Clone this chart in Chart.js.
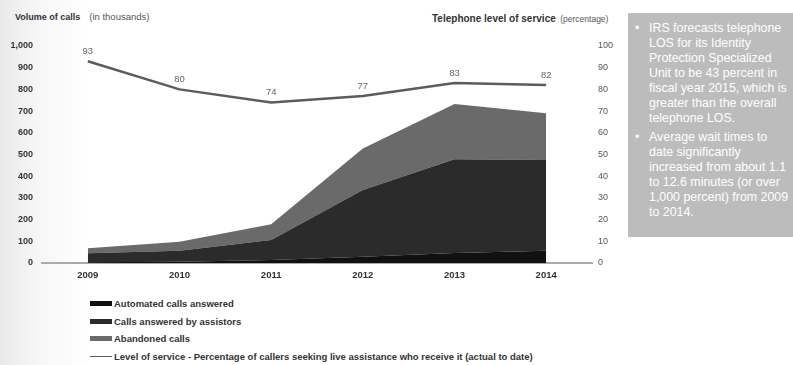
<!DOCTYPE html>
<html>
<head>
<meta charset="utf-8">
<script src="https://cdn.jsdelivr.net/npm/chart.js@4"></script>
<style>
  body { margin: 0; width: 793px; height: 365px; overflow: hidden; position: relative;
         font-family: "Liberation Sans", Arial, sans-serif;
         background: linear-gradient(90deg, #eaeaea 0px, #f7f7f7 40px, #ffffff 90px); }
  #wrap { position: absolute; left: 0; top: 0; width: 625px; height: 285px; }
  .axtitle { position: absolute; color: #555; white-space: nowrap; }
  .axtitle b { font-weight: bold; color: #333; }
  #legend { position: absolute; left: 90px; top: 295px; font-size: 9.5px; font-weight: bold; color: #333; }
  .li { height: 17.5px; display: flex; align-items: center; }
  .sw { width: 22px; margin-right: 2px; }
  #note { position: absolute; left: 628px; top: 13px; width: 165px; height: 224px; background: #bcbcbc;
          color: #fff; font-size: 12.4px; line-height: 15px; }
  #note ul { margin: 0; padding: 0; list-style: none; }
  #note li { position: relative; padding-left: 21px; margin-top: 4px; margin-bottom: 4px; }
  #note li:first-child { margin-top: 8px; }
  #note li:before { content: "\2022"; position: absolute; left: 7px; }
</style>
</head>
<body>
<div class="axtitle" style="left:15px; top:6px;"><b style="font-size:9px">Volume of calls</b>&nbsp; <span style="font-size:9.5px">(in thousands)</span></div>
<div class="axtitle" style="left:432px; top:8px;"><b style="font-size:10px">Telephone level of service</b> <span style="font-size:8.5px">(percentage)</span></div>
<div id="wrap"><canvas id="chart"></canvas></div>
<div id="legend"></div>
<div id="note">
  <ul>
    <li>IRS forecasts telephone<br>LOS for its Identity<br>Protection Specialized<br>Unit to be 43 percent in<br>fiscal year 2015, which is<br>greater than the overall<br>telephone LOS.</li>
    <li>Average wait times to<br>date significantly<br>increased from about 1.1<br>to 12.6 minutes (or over<br>1,000 percent) from 2009<br>to 2014.</li>
  </ul>
</div>
<script>
const years = ['2009', '2010', '2011', '2012', '2013', '2014'];
// thousands of calls
const automated = [3, 6, 14, 29, 46, 57];
const assistors = [42, 51, 92, 307, 432, 418];
const abandoned = [23, 41, 72, 192, 255, 215];
// percentage
const levelOfService = [93, 80, 74, 77, 83, 82];

const leftTicks = [0, 100, 200, 300, 400, 500, 600, 700, 800, 900, 1000];
const rightTicks = [0, 10, 20, 30, 40, 50, 60, 70, 80, 90, 100];

const font = "'Liberation Sans', Arial, sans-serif";

// value labels above the line
const pointLabels = {
    id: 'pointLabels',
    afterDatasetsDraw(chart) {
        const ctx = chart.ctx;
        const meta = chart.getDatasetMeta(3);
        ctx.save();
        ctx.font = '9.5px ' + font;
        ctx.fillStyle = '#666';
        ctx.textAlign = 'center';
        ctx.textBaseline = 'bottom';
        meta.data.forEach((pt, i) => {
            ctx.fillText(levelOfService[i], pt.x, pt.y - 5);
        });
        ctx.restore();
    }
};

const chart = new Chart(document.getElementById('chart'), {
    type: 'line',
    data: {
        labels: years,
        datasets: [
            { label: 'Automated calls answered', data: automated, yAxisID: 'y', stack: 'calls',
              backgroundColor: '#111111', borderColor: '#111111', borderWidth: 0, fill: 'origin', pointRadius: 0, tension: 0 },
            { label: 'Calls answered by assistors', data: assistors, yAxisID: 'y', stack: 'calls',
              backgroundColor: '#2b2b2b', borderColor: '#2b2b2b', borderWidth: 0, fill: '-1', pointRadius: 0, tension: 0 },
            { label: 'Abandoned calls', data: abandoned, yAxisID: 'y', stack: 'calls',
              backgroundColor: '#6a6a6a', borderColor: '#6a6a6a', borderWidth: 0, fill: '-1', pointRadius: 0, tension: 0 },
            { label: 'Level of service - Percentage of callers seeking live assistance who receive it (actual to date)',
              data: levelOfService, yAxisID: 'y1', borderColor: '#5c5c5c', borderWidth: 2.5, fill: false, pointRadius: 0, tension: 0 }
        ]
    },
    options: {
        responsive: true,
        maintainAspectRatio: false,
        animation: false,
        layout: { padding: { top: 46, left: 0, right: 0, bottom: 0 } },
        plugins: { legend: { display: false }, tooltip: { enabled: false } },
        scales: {
            x: {
                offset: true,
                grid: { display: false, drawTicks: false },
                border: { display: true, color: '#aaaaaa', width: 2 },
                ticks: { color: '#333', font: { family: font, size: 9.5, weight: 'bold' }, padding: 7, maxRotation: 0 },
                afterFit(s) { s.height = 22; }
            },
            y: {
                position: 'left',
                stacked: true,
                min: 0, max: 1000,
                grid: { display: false, drawTicks: false },
                border: { display: false },
                afterBuildTicks(s) { s.ticks = leftTicks.map(v => ({ value: v })); },
                ticks: { color: '#333', font: { family: font, size: 9, weight: 'bold' }, padding: 9,
                         callback: v => v.toLocaleString('en-US') },
                afterFit(s) { s.width = 42; }
            },
            y1: {
                position: 'right',
                min: 0, max: 100,
                grid: { display: false, drawTicks: false },
                border: { display: false },
                afterBuildTicks(s) { s.ticks = rightTicks.map(v => ({ value: v })); },
                ticks: { color: '#555', font: { family: font, size: 9 }, padding: 6 },
                afterFit(s) { s.width = 33; }
            }
        }
    },
    plugins: [pointLabels]
});

// legend as a column under the chart
const legend = document.getElementById('legend');
chart.data.datasets.forEach((ds, i) => {
    const row = document.createElement('div');
    row.className = 'li';
    const sw = document.createElement('div');
    sw.className = 'sw';
    if (i === 3) {
        sw.style.height = '1.5px';
        sw.style.background = ds.borderColor;
    } else {
        sw.style.height = '5px';
        sw.style.background = ds.backgroundColor;
    }
    row.appendChild(sw);
    row.appendChild(document.createTextNode(ds.label));
    legend.appendChild(row);
});
</script>
</body>
</html>
